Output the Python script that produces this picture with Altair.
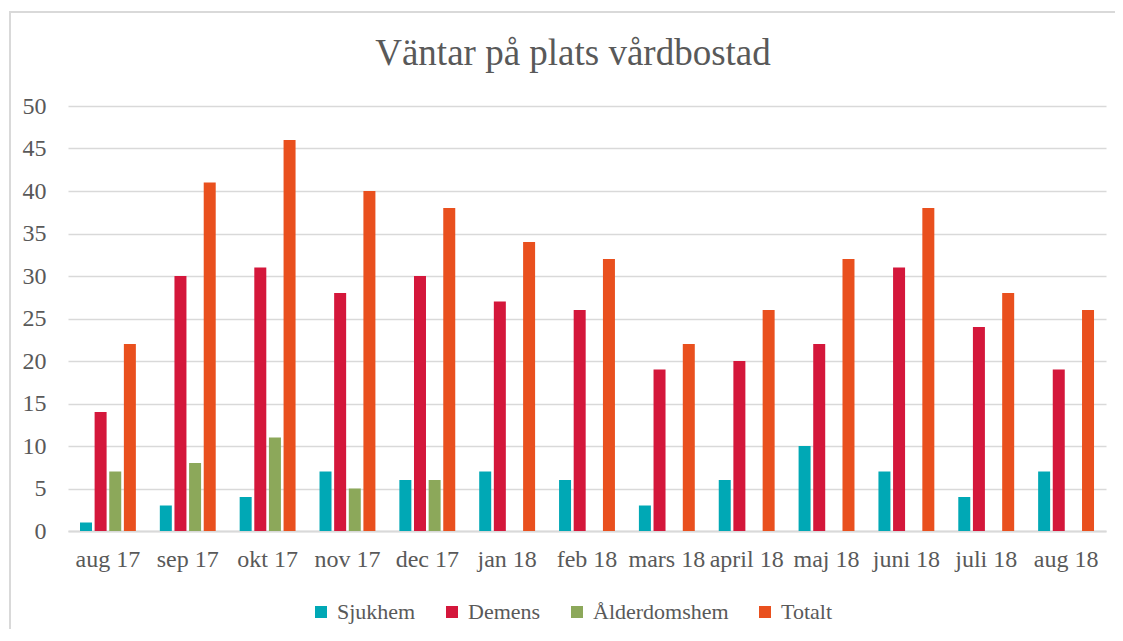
import altair as alt
import pandas as pd

months = ["aug 17", "sep 17", "okt 17", "nov 17", "dec 17", "jan 18", "feb 18",
          "mars 18", "april 18", "maj 18", "juni 18", "juli 18", "aug 18"]
series = ["Sjukhem", "Demens", "Ålderdomshem", "Totalt"]
sjukhem = [1, 3, 4, 7, 6, 7, 6, 3, 6, 10, 7, 4, 7]
demens = [14, 30, 31, 28, 30, 27, 26, 19, 20, 22, 31, 24, 19]
alderdomshem = [7, 8, 11, 5, 6, None, None, None, None, None, None, None, None]
totalt = [22, 41, 46, 40, 38, 34, 32, 22, 26, 32, 38, 28, 26]
colors = ["#00A8B5", "#D4173B", "#8CA85A", "#E9501E"]

rows = []
for name, vals in zip(series, [sjukhem, demens, alderdomshem, totalt]):
    for m, v in zip(months, vals):
        if v is not None:
            rows.append({"month": m, "series": name, "value": v})
df = pd.DataFrame(rows)

FONT = "'Times New Roman', 'Liberation Serif', Times, serif"
TXT = "#595959"
GRID = "#d9d9d9"

bars = alt.Chart(df).mark_bar().encode(
    x=alt.X("month:N", sort=months,
            scale=alt.Scale(domain=months, paddingInner=0.3, paddingOuter=0.15),
            axis=alt.Axis(title=None, labelAngle=0, labelFontSize=24, labelFont=FONT,
                          labelColor=TXT, ticks=False, domainColor=GRID, domainWidth=2,
                          labelPadding=16)),
    xOffset=alt.XOffset("series:N", sort=series,
                        scale=alt.Scale(domain=series, paddingInner=0.18, paddingOuter=0)),
    y=alt.Y("value:Q", scale=alt.Scale(domain=[0, 50], nice=False),
            axis=alt.Axis(title=None, values=list(range(0, 55, 5)), labelFontSize=24,
                          labelFont=FONT, labelColor=TXT, ticks=False, domain=False,
                          gridColor=GRID, gridWidth=1.5, labelPadding=22)),
    color=alt.Color("series:N", sort=series,
                    scale=alt.Scale(domain=series, range=colors),
                    legend=alt.Legend(title=None, orient="none", direction="horizontal",
                                      legendX=242, legendY=495, symbolType="square",
                                      symbolSize=144, symbolStrokeWidth=0,
                                      labelFontSize=22, labelFont=FONT, labelColor=TXT,
                                      labelOffset=5, columnPadding=25)),
)

border = alt.Chart(pd.DataFrame({"a": [0]})).mark_rect(
    fill=None, stroke=GRID, strokeWidth=2
).encode(x=alt.value(-58), x2=alt.value(1200), y=alt.value(-94), y2=alt.value(700))

chart = alt.layer(border, bars).properties(
    width=1038, height=425,
    title=alt.TitleParams("Väntar på plats vårdbostad", fontSize=37, font=FONT,
                          fontWeight="normal", color=TXT, anchor="middle",
                          dx=-14, offset=-62),
    autosize=alt.AutoSizeParams(type="none"),
    padding={"left": 60, "top": 98, "right": 9, "bottom": 98},
).configure_view(stroke=None)

chart.save("out.html", embed_options={"renderer": "svg", "actions": False})
